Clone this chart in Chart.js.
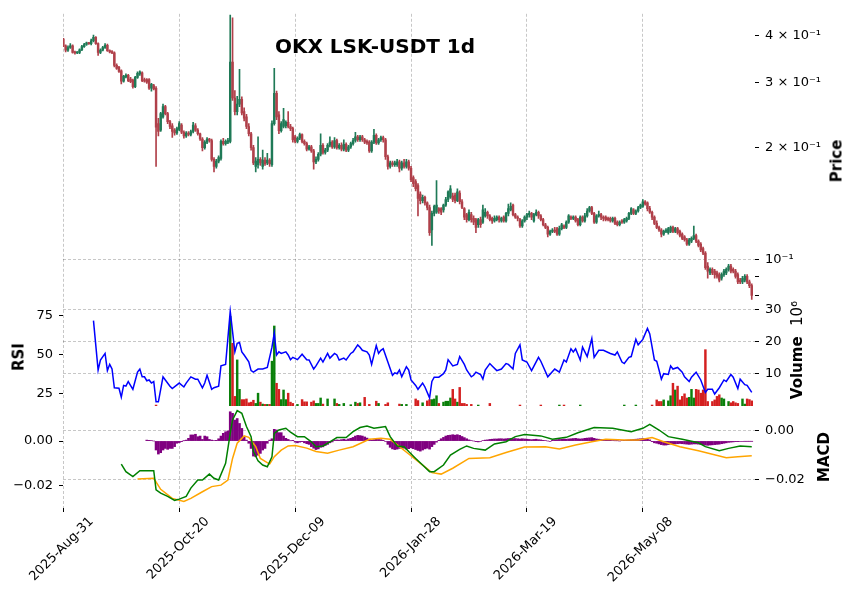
<!DOCTYPE html>
<html><head><meta charset="utf-8">
<script src="https://cdn.jsdelivr.net/npm/chart.js@4.4.1/dist/chart.umd.min.js"></script>
<style>
html,body{margin:0;padding:0;background:#fff}
body{width:856px;height:600px;position:relative;overflow:hidden;font-family:'DejaVu Sans',sans-serif;color:#000}
canvas{position:absolute;left:0}
.t{position:absolute;font-weight:bold;font-size:15px;line-height:15px;white-space:nowrap;transform:translate(-50%,-50%) rotate(-90deg)}
</style></head><body>
<canvas id="cA" width="856" height="320" style="top:0"></canvas>
<canvas id="cB" width="856" height="130" style="top:290px"></canvas>
<canvas id="cC" width="856" height="208" style="top:392px"></canvas>
<div style="position:absolute;left:375px;top:36px;transform:translateX(-50%);font-weight:bold;font-size:20px;line-height:20px;white-space:nowrap">OKX LSK-USDT 1d</div>
<div class="t" style="left:837px;top:161px">Price</div>
<div class="t" style="left:797px;top:350px">Volume&nbsp;&nbsp;<span style="font-weight:normal">10⁶</span></div>
<div class="t" style="left:824px;top:457px">MACD</div>
<div class="t" style="left:19px;top:357px">RSI</div>
<script>
// ---- x categories: one candle per day, day 0 = 2025-08-31 ----
const tickIdx = [0, 50, 100, 150, 200, 250];
const tickLabels = ['2025-Aug-31','2025-Oct-20','2025-Dec-09','2026-Jan-28','2026-Mar-19','2026-May-08'];

// ---- price candles (USDT) ----
const opens = [
.392,.376,.366,.372,.376,.361,.360,.361,.367,.374,
.379,.383,.381,.388,.396,.381,.361,.366,.372,.377,
.365,.363,.360,.333,.329,.322,.302,.310,.313,.306,
.304,.292,.309,.316,.318,.305,.305,.305,.289,.294,
.289,.232,.223,.242,.258,.247,.235,.229,.223,.219,
.224,.230,.220,.215,.219,.217,.221,.229,.223,.218,
.211,.200,.207,.211,.209,.186,.178,.184,.187,.208,
.205,.207,.208,.340,.272,.250,.262,.270,.250,.242,
.228,.218,.200,.178,.180,.186,.178,.185,.182,.185,
.180,.232,.280,.245,.222,.228,.229,.234,.228,.225,
.214,.208,.212,.217,.208,.205,.198,.201,.196,.183,
.186,.192,.203,.194,.197,.203,.207,.201,.209,.200,
.203,.198,.204,.197,.201,.205,.209,.214,.210,.214,
.210,.208,.207,.196,.207,.216,.206,.210,.213,.210,
.189,.178,.182,.180,.180,.183,.176,.182,.178,.183,
.176,.166,.162,.158,.150,.144,.147,.142,.138,.120,
.133,.134,.137,.137,.136,.140,.145,.147,.148,.149,
.144,.151,.143,.137,.132,.128,.132,.129,.128,.124,
.128,.126,.131,.134,.131,.129,.127,.128,.130,.127,
.130,.127,.133,.136,.140,.132,.130,.128,.123,.127,
.130,.132,.133,.127,.132,.134,.131,.128,.124,.122,
.117,.119,.120,.121,.117,.121,.123,.122,.126,.130,
.129,.130,.128,.124,.130,.127,.131,.135,.138,.133,
.126,.131,.132,.130,.130,.129,.129,.127,.129,.126,
.124,.127,.126,.127,.129,.133,.136,.133,.135,.138,
.139,.143,.142,.137,.134,.130,.125,.122,.120,.117,
.119,.118,.119,.122,.119,.121,.119,.117,.115,.113,
.110,.112,.114,.116,.112,.110,.107,.104,.096,.092,
.094,.093,.092,.091,.089,.091,.092,.094,.096,.094,
.093,.091,.088,.087,.088,.090,.087,.085];
const highs = [
.394,.378,.376,.381,.378,.364,.363,.369,.377,.382,
.385,.384,.392,.402,.398,.383,.369,.375,.381,.380,
.367,.365,.362,.336,.331,.324,.313,.316,.315,.309,
.306,.311,.320,.322,.320,.308,.307,.307,.298,.296,
.292,.240,.249,.262,.260,.249,.237,.232,.225,.227,
.235,.232,.222,.221,.221,.223,.234,.232,.225,.219,
.213,.209,.213,.212,.211,.188,.186,.190,.210,.212,
.210,.212,.455,.447,.285,.275,.325,.274,.256,.246,
.232,.220,.203,.188,.214,.188,.197,.188,.193,.187,
.236,.327,.284,.250,.235,.255,.236,.250,.231,.227,
.216,.214,.219,.218,.210,.207,.203,.203,.198,.189,
.194,.218,.205,.199,.205,.214,.209,.213,.211,.205,
.206,.210,.206,.203,.207,.212,.220,.216,.216,.216,
.212,.210,.209,.209,.224,.218,.212,.215,.215,.212,
.191,.184,.184,.184,.186,.185,.184,.186,.186,.185,
.178,.168,.164,.160,.152,.149,.148,.143,.140,.135,
.140,.163,.138,.138,.141,.147,.153,.158,.151,.151,
.155,.153,.145,.138,.133,.136,.134,.131,.129,.129,
.130,.140,.137,.135,.132,.130,.131,.131,.131,.130,
.131,.134,.141,.142,.141,.133,.131,.129,.128,.131,
.133,.135,.134,.133,.136,.135,.132,.129,.125,.123,
.120,.121,.122,.122,.123,.125,.124,.127,.132,.131,
.131,.131,.129,.131,.131,.133,.137,.139,.139,.134,
.132,.135,.133,.131,.131,.130,.130,.130,.130,.127,
.127,.128,.129,.130,.134,.138,.137,.136,.139,.141,
.145,.144,.143,.139,.135,.131,.127,.123,.121,.120,
.121,.122,.123,.123,.122,.122,.120,.118,.116,.114,
.114,.115,.123,.117,.113,.111,.108,.105,.098,.095,
.095,.094,.093,.092,.092,.094,.095,.097,.097,.095,
.094,.092,.089,.090,.091,.091,.088,.086];
const lows = [
.374,.362,.363,.370,.359,.357,.358,.358,.365,.372,
.377,.379,.378,.385,.379,.354,.358,.364,.370,.363,
.360,.358,.330,.325,.319,.297,.300,.308,.301,.299,
.289,.290,.307,.313,.301,.300,.298,.287,.284,.286,
.178,.215,.221,.240,.245,.232,.225,.213,.216,.217,
.222,.218,.212,.213,.215,.215,.219,.221,.216,.209,
.196,.198,.205,.207,.184,.172,.176,.182,.185,.203,
.203,.205,.206,.268,.245,.245,.258,.245,.236,.225,
.215,.197,.180,.172,.176,.179,.175,.179,.180,.178,
.178,.230,.238,.218,.220,.226,.226,.226,.222,.207,
.206,.206,.210,.206,.203,.196,.197,.194,.175,.181,
.184,.190,.192,.192,.195,.201,.199,.199,.198,.198,
.196,.196,.195,.195,.199,.203,.207,.208,.208,.208,
.205,.204,.194,.194,.205,.204,.204,.208,.207,.186,
.175,.176,.178,.178,.178,.172,.174,.176,.176,.174,
.162,.157,.153,.131,.141,.142,.140,.136,.116,.109,
.131,.133,.133,.132,.134,.139,.143,.146,.143,.142,
.143,.141,.137,.128,.126,.127,.126,.124,.118,.122,
.122,.125,.130,.129,.127,.125,.126,.127,.126,.126,
.126,.126,.131,.135,.131,.129,.127,.122,.122,.126,
.128,.130,.128,.126,.131,.129,.127,.123,.121,.115,
.116,.118,.118,.116,.116,.120,.121,.121,.125,.128,
.128,.126,.123,.123,.126,.126,.130,.134,.132,.125,
.125,.130,.128,.127,.127,.127,.126,.126,.124,.123,
.123,.125,.125,.126,.128,.132,.132,.132,.134,.137,
.138,.140,.135,.133,.128,.124,.121,.119,.115,.116,
.118,.117,.118,.118,.118,.117,.115,.113,.112,.109,
.109,.111,.113,.111,.108,.105,.103,.094,.089,.091,
.091,.089,.089,.087,.088,.090,.091,.093,.092,.092,
.089,.086,.086,.086,.087,.086,.084,.078];
const closes = [
.376,.366,.372,.376,.361,.360,.361,.367,.374,.379,
.383,.381,.388,.396,.381,.361,.366,.372,.377,.365,
.362,.360,.333,.327,.321,.302,.311,.313,.303,.301,
.292,.309,.317,.320,.303,.302,.300,.289,.296,.288,
.227,.221,.247,.258,.247,.235,.228,.221,.219,.225,
.232,.220,.215,.219,.217,.221,.230,.223,.218,.211,
.200,.207,.211,.209,.186,.178,.184,.188,.208,.205,
.208,.209,.340,.272,.250,.262,.270,.248,.240,.228,
.218,.200,.182,.184,.186,.182,.185,.181,.185,.181,
.232,.280,.242,.222,.232,.238,.234,.228,.225,.210,
.208,.212,.217,.208,.205,.198,.201,.196,.183,.186,
.192,.203,.194,.197,.203,.207,.201,.209,.200,.203,
.198,.204,.197,.201,.205,.209,.214,.210,.214,.210,
.207,.206,.196,.207,.216,.206,.210,.213,.210,.189,
.178,.182,.180,.182,.183,.176,.182,.178,.183,.176,
.164,.160,.155,.146,.144,.147,.142,.138,.118,.133,
.139,.140,.135,.134,.140,.145,.152,.155,.145,.144,
.152,.143,.138,.130,.128,.134,.128,.126,.122,.128,
.124,.136,.134,.131,.128,.127,.129,.130,.128,.129,
.127,.133,.137,.139,.132,.130,.129,.123,.127,.130,
.132,.133,.130,.132,.134,.131,.128,.124,.122,.117,
.119,.120,.119,.117,.121,.124,.122,.126,.131,.129,
.130,.127,.124,.130,.127,.131,.135,.138,.133,.126,
.131,.132,.130,.129,.128,.128,.127,.129,.125,.124,
.126,.126,.128,.129,.133,.137,.133,.135,.138,.140,
.143,.141,.137,.134,.130,.125,.122,.120,.117,.119,
.120,.121,.122,.119,.121,.118,.116,.114,.113,.110,
.113,.114,.116,.112,.109,.106,.104,.095,.093,.094,
.092,.091,.090,.088,.091,.093,.094,.096,.093,.093,
.090,.087,.087,.089,.090,.087,.085,.080];

// ---- volume, millions (day, value) ----
const volumePts = [[40,0.3],
[72,28],[73,19.6],[74,3],[75,14.4],[76,5.2],[77,2],[78,2],[79,2.2],[80,1],[81,1.2],[82,1.8],[83,0.8],[84,4],[85,1.2],[86,0.6],[87,0.5],[88,0.5],[89,0.5],
[90,14],[91,25],[92,7.1],[93,5.2],[94,2],[95,5],[96,2],[97,4],[98,1.2],[99,0.8],
[101,0.5],[103,2],[104,1.3],[105,1.3],[107,1.2],[108,1.6],[109,0.8],[110,0.8],[111,2.5],[112,0.6],[114,2.2],[117,2.2],[118,0.8],[119,0.5],[121,0.8],[124,0.4],[126,1.2],[127,0.8],[128,1.0],[130,2.7],[132,0.5],[135,1.5],[136,0.8],[139,0.5],[140,1.0],[145,0.6],[146,0.5],[148,0.5],
[152,2.2],[153,1.7],[155,1.0],[157,1.6],[158,2.0],[159,2.0],[160,2.2],[161,3.2],[162,0.8],[164,1.2],[165,1.5],[166,1.5],[167,2.5],[168,5.2],[169,2.2],[170,1.2],[171,5.8],[172,0.8],[173,0.8],[174,0.5],[176,0.5],[179,0.3],[184,0.8],[197,0.3],
[206,0.3],[214,0.3],[216,0.3],[223,0.3],[242,0.3],[247,0.3],[254,0.3],[256,1.9],[257,1.4],[258,1.4],[259,1.9],[261,1.6],[262,3.2],[263,7.1],[264,5],[265,6.2],[266,1.9],[267,3],[268,3.8],[269,2.5],
[270,2.7],[271,5.2],[272,2.5],[273,5.2],[274,5],[275,4],[276,5],[277,17.6],[278,1.4],[280,1.4],[281,1.9],[282,3],[283,3.5],[284,2.5],[285,2.2],[287,1.4],[288,1.0],[289,1.4],[290,1.0],[291,0.8],[293,2.2],[294,0.6],[295,2.2],[296,2],[297,1.6]];

// ---- RSI (day, value) ----
const rsiPts = [[13,72],[15,40.4],[16,46.8],[18,51],[19,40],[20,44],[21,41],[22,29],[24,28.7],[25,23],[26,30.5],[27,30],[28,33],[30,28],[32,39],[33,41],[34,36],[35,36],[36,33.5],[37,34],[38,32],[39,33],[40,20],[41,20],[43,36],[44,34],[46,30],[47,28.5],[50,32],[52,29.5],[53,32],[55,36],[57,34.5],[58,34.5],[60,29],[61,32],[62,37],[64,28],[65,29],[67,30],[68,43],[70,44],[72,78],[73,65],[74,52],[75,57.5],[76,58],[77,52],[78,50],[80,45.7],[81,40],[82,39],[84,41],[86,41],[88,42],[90,55],[91,64],[92,50],[93,52],[94,51],[96,52],[97,50],[98,47],[99,48.5],
[101,47],[103,50.5],[105,47],[106,46.8],[108,41],[109,43],[111,48],[112,45.5],[114,51],[115,48],[117,51],[118,50],[119,46.8],[121,48],[122,46.8],[124,51],[125,52],[127,56.5],[128,55],[129,53],[131,52],[132,50],[133,44],[135,56],[136,51],[137,53],[138,54],[140,45.5],[142,37],[143,38.6],[144,38],[145,40.4],[146,36],[148,42.5],[149,40.4],[150,34],[152,30.5],[153,28],[155,32],[156,29.5],[158,22.5],[159,33],[160,35.8],[162,35.8],[164,38],[165,40.4],[166,47],[168,43],[170,44],[171,49],[173,44],[174,40.4],[176,36],[177,37],[178,39],[180,37.5],[181,34.5],[182,40.4],[184,44.5],[185,43],[187,40],[189,41],[191,44.5],[192,44],[194,41],[195,51],[197,56.5],[198,46.8],
[200,45.5],[202,40],[205,48.5],[206,46],[209,36],[212,41],[214,39],[216,46.8],[217,45.5],[219,54],[220,52],[221,54],[223,46.8],[224,55],[226,49],[228,60.5],[229,48.5],[231,53],[233,53],[236,51],[238,50],[239,52],[241,45.5],[242,44.5],[244,48.5],[245,49],[247,60],[248,56.5],[250,60],[252,67],[253,63.5],[255,46.8],[256,46],[257,40.4],[258,34.5],[259,38],[261,37.5],[262,43],[263,41],[265,42],[267,39],[268,36],[270,33],[271,35.8],[273,39],[275,34],[277,26],[278,28],[280,28],[281,25],[283,29],[285,34],[286,33],[288,37.5],[289,35.8],[291,28.5],[292,34.5],[294,31],[295,30.5],[297,26]];

// ---- MACD line and signal line (day, value) ----
const macdPts = [[25,-0.0135],[27,-0.0166],[30,-0.0186],[33,-0.0162],[39,-0.0162],[40,-0.0240],[42,-0.0254],[45,-0.0267],[48,-0.0283],[50,-0.0278],[53,-0.0267],[55,-0.0233],[58,-0.0200],[60,-0.0200],[63,-0.0176],[65,-0.0193],[67,-0.0200],[70,-0.0132],[72,-0.0010],[73,0.0045],[75,0.0083],[77,0.0072],[79,0.0018],[81,-0.0023],[82,-0.0084],[84,-0.0122],[86,-0.0139],[88,-0.0146],[90,-0.0105],[91,-0.0010],[93,0.0004],[96,0.0011],[98,-0.0005],[101,-0.0023],[104,-0.0023],[107,-0.0044],[109,-0.0064],[112,-0.0061],[115,-0.0044],[118,-0.0027],[122,-0.0027],[125,-0.0003],[128,0.0014],[131,0.0020],[134,0.0011],[137,0.0015],[139,0.0018],[141,-0.0023],[144,-0.0061],[147,-0.0064],[149,-0.0084],[152,-0.0112],[155,-0.0139],[158,-0.0166],[160,-0.0166],[164,-0.0139],[167,-0.0098],[171,-0.0075],[174,-0.0061],[177,-0.0071],[182,-0.0078],[186,-0.0053],[191,-0.0044],[195,-0.0023],[199,-0.0014],[206,-0.0020],[211,-0.0034],[217,-0.0026],[222,-0.0007],[229,0.0014],[237,0.0011],[245,-0.0003],[250,0.0011],[253,0.0027],[257,0.0004],[261,-0.0023],[267,-0.0034],[274,-0.0048],[277,-0.0064],[283,-0.0081],[287,-0.0071],[292,-0.0061],[297,-0.0064]];
const signalPts = [[32,-0.0196],[39,-0.0193],[42,-0.0238],[47,-0.0275],[52,-0.0288],[55,-0.0275],[60,-0.0248],[64,-0.0227],[68,-0.0221],[71,-0.0200],[73,-0.0112],[75,-0.0050],[78,-0.0020],[80,-0.0026],[83,-0.0064],[85,-0.0112],[89,-0.0135],[91,-0.0105],[94,-0.0078],[97,-0.0061],[100,-0.0059],[105,-0.0070],[109,-0.0084],[114,-0.0091],[119,-0.0078],[125,-0.0064],[132,-0.0034],[137,-0.0030],[141,-0.0034],[145,-0.0064],[149,-0.0094],[155,-0.0139],[159,-0.0170],[163,-0.0176],[168,-0.0152],[175,-0.0112],[184,-0.0109],[191,-0.0088],[199,-0.0065],[208,-0.0064],[214,-0.0073],[221,-0.0057],[228,-0.0044],[234,-0.0034],[242,-0.0037],[248,-0.0037],[254,-0.0027],[259,-0.0044],[266,-0.0064],[274,-0.0081],[280,-0.0095],[286,-0.0109],[291,-0.0105],[297,-0.0101]];

// ---- MACD histogram, one bar per day from day 36 ----
const histStart = 36;
const histVals = [
0.0004,0.0003,0.0002,0.0000,
-0.0040,-0.0058,-0.0052,-0.0040,-0.0033,-0.0037,-0.0033,-0.0033,-0.0025,-0.0010,
-0.0007,-0.0003,0.0001,0.0004,0.0012,0.0027,0.0027,0.0030,0.0019,0.0022,
0.0007,0.0022,0.0019,0.0007,0.0004,0.0002,0.0003,0.0010,0.0022,0.0034,
0.0041,0.0045,0.0130,0.0123,0.0093,0.0100,0.0078,0.0056,0.0019,0.0004,
-0.0010,-0.0033,-0.0067,-0.0070,-0.0063,-0.0055,-0.0040,-0.0033,-0.0010,0.0004,
0.0010,0.0052,0.0049,0.0037,0.0037,0.0022,0.0012,0.0007,0.0001,0.0003,
-0.0005,-0.0008,-0.0005,-0.0003,-0.0008,-0.0012,-0.0015,-0.0025,-0.0032,-0.0038,
-0.0035,-0.0028,-0.0026,-0.0020,-0.0015,-0.0008,-0.0004,0.0003,0.0005,0.0004,
0.0006,0.0008,0.0005,0.0009,0.0012,0.0016,0.0022,0.0025,0.0024,0.0022,
0.0018,0.0013,0.0008,0.0004,0.0006,0.0008,0.0007,0.0006,0.0003,-0.0002,
-0.0015,-0.0028,-0.0035,-0.0038,-0.0036,-0.0033,-0.0030,-0.0032,-0.0036,-0.0034,
-0.0030,-0.0034,-0.0038,-0.0042,-0.0045,-0.0040,-0.0035,-0.0032,-0.0036,-0.0025,
-0.0015,-0.0005,0.0003,0.0010,0.0016,0.0022,0.0025,0.0026,0.0028,0.0026,
0.0028,0.0025,0.0020,0.0015,0.0010,0.0005,0.0002,0.0000,-0.0003,-0.0004,
-0.0002,0.0002,0.0004,0.0005,0.0007,0.0008,0.0009,0.0009,0.0010,0.0010,
0.0009,0.0010,0.0011,0.0012,0.0010,0.0011,0.0010,0.0009,0.0010,0.0009,
0.0008,0.0007,0.0006,0.0007,0.0008,0.0006,0.0005,0.0003,0.0002,0.0000,
-0.0002,0.0003,0.0005,0.0006,0.0007,0.0008,0.0009,0.0008,0.0009,0.0010,
0.0011,0.0012,0.0010,0.0009,0.0010,0.0012,0.0013,0.0014,0.0015,0.0012,
0.0009,0.0008,0.0007,0.0006,0.0005,0.0004,0.0003,0.0002,0.0001,0.0001,
0.0000,0.0002,0.0003,0.0004,0.0005,0.0006,0.0007,0.0008,0.0009,0.0010,
0.0011,0.0010,0.0008,0.0005,-0.0003,-0.0008,-0.0010,-0.0013,-0.0016,-0.0018,
-0.0018,-0.0016,-0.0014,-0.0012,-0.0013,-0.0012,-0.0011,-0.0012,-0.0013,-0.0014,
-0.0015,-0.0014,-0.0013,-0.0013,-0.0014,-0.0015,-0.0016,-0.0018,-0.0019,-0.0018,
-0.0017,-0.0016,-0.0015,-0.0014,-0.0012,-0.0010,-0.0008,-0.0006,-0.0005,-0.0004,
-0.0003,-0.0003,-0.0002,-0.0002,-0.0001,-0.0001,-0.0001,-0.0001];

// ---- axis tick values / labels ----
const priceTicks = [0.08, 0.09, 0.1, 0.2, 0.3, 0.4];
const priceTickLabels = ['', '', '10⁻¹', '2 × 10⁻¹', '3 × 10⁻¹', '4 × 10⁻¹'];
const rsiTicks = [25, 50, 75];
const volTicks = [10, 20, 30];
const macdTicks = [-0.02, 0];

// ---------------- rendering ----------------
Chart.defaults.font.family = "'DejaVu Sans', sans-serif";
Chart.defaults.font.size = 13;
Chart.defaults.color = '#000';
const GRID = 'rgba(0,0,0,0.28)';
const XMIN = -0.15, XMAX = 298.4;
const UP = '#1f7a57', DN = '#b0404a';
const VUP = '#0a800a', VDN = '#d42020';

const idx = closes.map((_, i) => i);
const isUp = i => closes[i] >= opens[i];
const candleCol = idx.map(i => isUp(i) ? UP : DN);
const commonPlugins = {legend: {display: false}, tooltip: {enabled: false}};

function xScale(show) {
  return {
    type: 'linear', min: XMIN, max: XMAX, offset: false,
    afterBuildTicks: s => { s.ticks = tickIdx.map(v => ({value: v})); },
    afterFit: s => { s.height = show ? 92 : 0; },
    grid: {color: GRID, lineWidth: 0.8, offset: false, drawTicks: show, tickLength: 4, tickColor: '#000', tickWidth: 1, tickBorderDash: []},
    border: {display: false, dash: [3, 2]},
    ticks: show ? {autoSkip: false, maxRotation: 45, minRotation: 45, padding: 2, labelOffset: 28,
                   callback: v => tickLabels[tickIdx.indexOf(v)]} : {display: false}
  };
}
function yScale(pos, min, max, vals, labelFn, gridColor, width, type) {
  return {
    type: type || 'linear', position: pos, min: min, max: max,
    afterBuildTicks: s => { s.ticks = vals.map(v => ({value: v})); },
    afterFit: s => { s.width = width; },
    ticks: {autoSkip: false, padding: 6, callback: v => labelFn(v)},
    grid: {drawOnChartArea: gridColor !== null, color: gridColor || 'transparent', lineWidth: 0.8,
           tickLength: 4, tickColor: '#000', tickWidth: 1},
    border: {display: false, dash: [3, 2]}
  };
}
const macdLabel = v => v.toFixed(2).replace('-', '\u2212');

// Price panel
new Chart(document.getElementById('cA'), {
  type: 'bar',
  data: {datasets: [
    {data: idx.map(i => ({x: i, y: [lows[i], highs[i]]})), backgroundColor: candleCol, barThickness: 1, grouped: false, order: 2},
    {data: idx.map(i => ({x: i, y: [opens[i], closes[i]]})), backgroundColor: candleCol, barThickness: 1.8, minBarLength: 1, grouped: false, order: 1}
  ]},
  options: {
    responsive: false, animation: false, events: [],
    layout: {padding: {left: 63, top: 11, bottom: 15, right: 0}},
    plugins: commonPlugins,
    scales: {
      x: xScale(false),
      y: yScale('right', 0.07539, 0.4585, priceTicks, v => priceTickLabels[priceTicks.indexOf(v)],
                ctx => (ctx.tick && ctx.tick.value === 0.1) ? GRID : 'transparent', 101, 'logarithmic')
    }
  }
});

// RSI + Volume panel
new Chart(document.getElementById('cB'), {
  type: 'bar',
  data: {datasets: [
    {type: 'line', data: rsiPts.map(p => ({x: p[0], y: p[1]})), yAxisID: 'yr', borderColor: '#0000ff', borderWidth: 1.5, pointRadius: 0, tension: 0, order: 0},
    {type: 'bar', data: volumePts.map(p => ({x: p[0], y: p[1]})), yAxisID: 'yv',
     backgroundColor: volumePts.map(p => isUp(p[0]) ? VUP : VDN), barThickness: 1.8, grouped: false, order: 1}
  ]},
  options: {
    responsive: false, animation: false, events: [],
    layout: {padding: {left: 0, top: 15, bottom: 14, right: 0}},
    plugins: commonPlugins,
    scales: {
      x: xScale(false),
      yr: yScale('left', 17.3, 82.05, rsiTicks, v => String(v), null, 63),
      yv: yScale('right', 0, 31.56, volTicks, v => String(v), GRID, 101)
    }
  }
});

// MACD panel
new Chart(document.getElementById('cC'), {
  type: 'bar',
  data: {datasets: [
    {type: 'line', data: macdPts.map(p => ({x: p[0], y: p[1]})), yAxisID: 'ym', borderColor: '#008000', borderWidth: 1.5, pointRadius: 0, tension: 0, order: 0},
    {type: 'line', data: signalPts.map(p => ({x: p[0], y: p[1]})), yAxisID: 'ym', borderColor: '#ffa500', borderWidth: 1.5, pointRadius: 0, tension: 0, order: 1},
    {type: 'bar', data: histVals.map((v, k) => ({x: histStart + k, y: v})), yAxisID: 'yh', backgroundColor: '#800080', barThickness: 2, grouped: false, order: 2}
  ]},
  options: {
    responsive: false, animation: false, events: [],
    layout: {padding: {left: 0, top: 14, bottom: 0, right: 0}},
    plugins: commonPlugins,
    scales: {
      x: xScale(true),
      yh: yScale('left', -0.02978, 0.01556, macdTicks, macdLabel, null, 63),
      ym: yScale('right', -0.03143, 0.0102, macdTicks, macdLabel, GRID, 101)
    }
  }
});
</script>
</body></html>
